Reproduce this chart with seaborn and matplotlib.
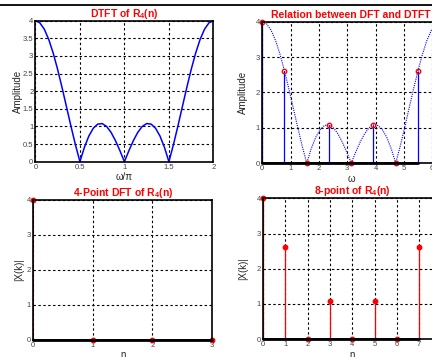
import matplotlib
matplotlib.use("Agg")
import matplotlib.pyplot as plt
import seaborn as sns
import numpy as np
import pandas as pd
from matplotlib.lines import Line2D

# DTFT magnitude of R4(n) (x in units of pi)
w_over_pi = [0.00, 0.05, 0.10, 0.15, 0.20, 0.25, 0.30, 0.35, 0.40, 0.45,
             0.50, 0.55, 0.60, 0.65, 0.70, 0.75, 0.80, 0.85, 0.90, 0.95,
             1.00, 1.05, 1.10, 1.15, 1.20, 1.25, 1.30, 1.35, 1.40, 1.45,
             1.50, 1.55, 1.60, 1.65, 1.70, 1.75, 1.80, 1.85, 1.90, 1.95, 2.00]
dtft_mag = [4.000, 3.939, 3.758, 3.466, 3.078, 2.613, 2.095, 1.548, 1.000, 0.476,
            0.000, 0.406, 0.727, 0.949, 1.067, 1.082, 1.000, 0.832, 0.595, 0.310,
            0.000, 0.310, 0.595, 0.832, 1.000, 1.082, 1.067, 0.949, 0.727, 0.406,
            0.000, 0.476, 1.000, 1.548, 2.095, 2.613, 3.078, 3.466, 3.758, 3.939, 4.000]

# 4-point DFT
dft4_k = [0, 1, 2, 3]
dft4_mag = [4.0, 0.0, 0.0, 0.0]

# 8-point DFT
dft8_k = [0, 1, 2, 3, 4, 5, 6, 7]
dft8_w = [0.000, 0.785, 1.571, 2.356, 3.142, 3.927, 4.712, 5.498]
dft8_mag = [4.000, 2.613, 0.000, 1.082, 0.000, 1.082, 0.000, 2.613]

sns.set_style("white")
plt.rcParams["font.family"] = ["Liberation Sans", "DejaVu Sans"]
plt.rcParams["mathtext.default"] = "regular"

fig = plt.figure(figsize=(4.32, 3.57), dpi=100)
ax1 = fig.add_axes([0.082, 0.547, 0.412, 0.395])
ax2 = fig.add_axes([0.607, 0.543, 0.412, 0.396])
ax3 = fig.add_axes([0.077, 0.048, 0.414, 0.392])
ax4 = fig.add_axes([0.609, 0.050, 0.413, 0.394])

# line across the top of the page
fig.add_artist(Line2D([0, 1], [0.986, 0.986], transform=fig.transFigure,
                      color="black", linewidth=1.3))


def style(ax):
    ax.grid(True, color="black", linestyle=(0, (2.2, 2.2)), linewidth=0.8)
    ax.set_axisbelow(True)
    ax.tick_params(direction="in", length=2, labelsize=5.5, labelcolor="#444444",
                   pad=1.5)
    for sp in ax.spines.values():
        sp.set_color("black")
        sp.set_linewidth(1.2)


def title(ax, txt):
    ax.set_title(txt, color="red", fontsize=7.5, fontweight="bold", pad=3)


# top-left: DTFT
df = pd.DataFrame({"w": w_over_pi, "mag": dtft_mag})
sns.lineplot(data=df, x="w", y="mag", ax=ax1, color="blue", linewidth=1.1)
ax1.set_xlim(0, 2)
ax1.set_ylim(0, 4)
ax1.set_xticks([0, 0.5, 1, 1.5, 2])
ax1.set_xticklabels(["0", "0.5", "1", "1.5", "2"])
ax1.set_yticks(np.arange(0, 4.01, 0.5))
ax1.set_yticklabels(["0", "0.5", "1", "1.5", "2", "2.5", "3", "3.5", "4"])
style(ax1)
title(ax1, "DTFT of R$_4$(n)")
ax1.set_xlabel("ω/π", fontsize=7, labelpad=1)
ax1.set_ylabel("Amplitude", fontsize=7, labelpad=0)

# top-right: relation between DFT and DTFT
df2 = pd.DataFrame({"w": np.array(w_over_pi) * np.pi, "mag": dtft_mag})
sns.lineplot(data=df2, x="w", y="mag", ax=ax2, color="blue", linewidth=0.8,
             linestyle=(0, (1, 1)))
ml, sl, bl = ax2.stem(dft8_w, dft8_mag, basefmt="k-")
plt.setp(sl, color="blue", linewidth=0.9)
plt.setp(ml, color="red", markerfacecolor="none", markersize=3.2, markeredgewidth=1)
plt.setp(bl, linewidth=2)
ax2.set_xlim(0, 2 * np.pi)
ax2.set_ylim(0, 4)
ax2.set_xticks([0, 1, 2, 3, 4, 5, 6])
ax2.set_yticks([0, 1, 2, 3, 4])
style(ax2)
title(ax2, "Relation between DFT and DTFT")
ax2.set_xlabel("ω", fontsize=7, labelpad=1)
ax2.set_ylabel("Amplitude", fontsize=7, labelpad=6)

# bottom-left: 4-point DFT
ml, sl, bl = ax3.stem(dft4_k, dft4_mag, basefmt="k-")
plt.setp(sl, color="#b00000", linewidth=1.2)
plt.setp(ml, color="red", markersize=3.2)
plt.setp(bl, linewidth=2)
ax3.set_xlim(0, 3)
ax3.set_ylim(0, 4)
ax3.set_xticks(dft4_k)
ax3.set_yticks([0, 1, 2, 3, 4])
style(ax3)
title(ax3, "4-Point DFT of R$_4$(n)")
ax3.set_xlabel("n", fontsize=7, labelpad=1)
ax3.set_ylabel("|X(k)|", fontsize=7, labelpad=2)

# bottom-right: 8-point DFT
ml, sl, bl = ax4.stem(dft8_k, dft8_mag, basefmt="k-")
plt.setp(sl, color="red", linewidth=0.9)
plt.setp(ml, color="red", markersize=3.2)
plt.setp(bl, linewidth=2)
ax4.set_xlim(0, 8)
ax4.set_ylim(0, 4)
ax4.set_xticks(dft8_k + [8])
ax4.set_yticks([0, 1, 2, 3, 4])
style(ax4)
title(ax4, "8-point of R$_4$(n)")
ax4.set_xlabel("n", fontsize=7, labelpad=1)
ax4.set_ylabel("|X(k)|", fontsize=7, labelpad=6)

for ax in (ax1, ax2, ax3, ax4):
    for ln in ax.lines:
        ln.set_clip_on(False)

fig.savefig("out.png", dpi=100)
